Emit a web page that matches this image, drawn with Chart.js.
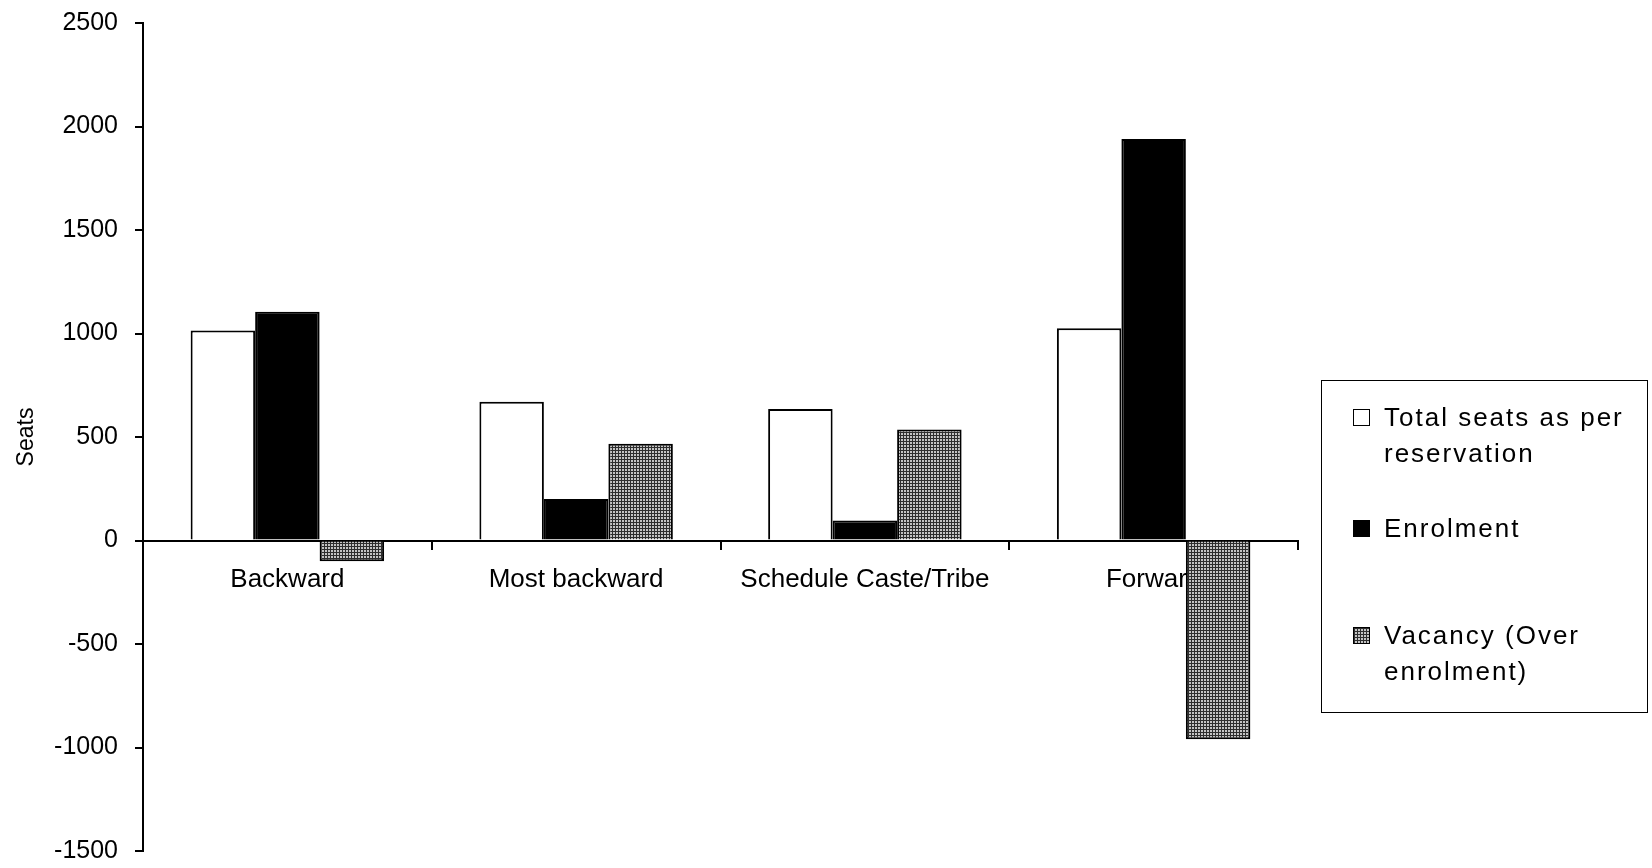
<!DOCTYPE html>
<html>
<head>
<meta charset="utf-8">
<script src="https://cdn.jsdelivr.net/npm/chart.js@4"></script>
<style>
  body { margin: 0; background: #fff; }
  #wrap { position: relative; width: 1652px; height: 868px; }
  #legend {
    position: absolute; left: 1321px; top: 380px; width: 325px; height: 331px;
    border: 1.5px solid #000; font-family: "Liberation Sans", Arial, sans-serif;
  }
  .item { position: absolute; left: 62px; width: 268px; font-size: 26px;
    line-height: 36px; letter-spacing: 2px; color: #000; }
  .sw { position: absolute; left: -31px; top: 10px; width: 15px; height: 15px;
    border: 1.5px solid #000; }
</style>
</head>
<body>
<div id="wrap">
  <canvas id="chart" width="1652" height="868"></canvas>
  <div id="legend"></div>
</div>
<script>
const categories = ["Backward", "Most backward", "Schedule Caste/Tribe", "Forward"];
const seriesNames = ["Total seats as per reservation", "Enrolment", "Vacancy (Over enrolment)"];
const totalSeats = [1015, 670, 635, 1025];
const enrolment = [1105, 200, 97, 1940];
const vacancy = [-100, 467, 536, -960];
const yMin = -1500, yMax = 2500, yStep = 500;

const FONT = '"Liberation Sans", Arial, sans-serif';

// grey mesh used for the vacancy bars
function meshTile() {
    const c = document.createElement("canvas");
    c.width = 3; c.height = 3;
    const g = c.getContext("2d");
    g.fillStyle = "#c4c4c4";
    g.fillRect(0, 0, 3, 3);
    g.fillStyle = "#2e2e2e";
    g.fillRect(0, 0, 3, 1);
    g.fillRect(0, 0, 1, 3);
    return c;
}
const tile = meshTile();
const ctx = document.getElementById("chart").getContext("2d");
const mesh = ctx.createPattern(tile, "repeat");

const chart = new Chart(ctx, {
    type: "bar",
    data: {
        labels: categories,
        datasets: [
            { label: seriesNames[0], data: totalSeats, backgroundColor: "#ffffff" },
            { label: seriesNames[1], data: enrolment, backgroundColor: "#000000" },
            { label: seriesNames[2], data: vacancy, backgroundColor: mesh }
        ].map(d => Object.assign(d, {
            borderColor: "#000", borderWidth: 2,
            categoryPercentage: 0.67, barPercentage: 1.0
        }))
    },
    options: {
        responsive: false,
        devicePixelRatio: 1,
        animation: false,
        layout: { padding: { top: 23, bottom: 17, left: 0, right: 354 } },
        plugins: { legend: { display: false }, tooltip: { enabled: false } },
        scales: {
            x: {
                position: { y: 0 },
                grid: { drawOnChartArea: false, drawTicks: true, tickLength: 8, color: "#000", lineWidth: 2 },
                border: { display: true, color: "#000", width: 2 },
                ticks: { color: "#000", padding: 16, font: { family: FONT, size: 26 }, maxRotation: 0 },
                afterFit(s) { s.paddingLeft = 0; s.paddingRight = 0; }
            },
            y: {
                min: yMin, max: yMax,
                ticks: { stepSize: yStep, color: "#000", padding: 17, font: { family: FONT, size: 25 },
                    callback: v => String(v) },
                grid: { drawOnChartArea: false, drawTicks: true, tickLength: 8, color: "#000", lineWidth: 2 },
                border: { display: true, color: "#000", width: 2 },
                title: { display: true, text: "Seats", color: "#000", font: { family: FONT, size: 23 }, padding: { top: 13, bottom: 0 } },
                afterFit(s) { s.width = 143; s.paddingTop = 0; s.paddingBottom = 0; }
            }
        }
    }
});

// legend box with wrapped labels, built from the datasets
const itemTops = [18, 129, 236];
const legend = document.getElementById("legend");
chart.data.datasets.forEach((ds, i) => {
    const it = document.createElement("div");
    it.className = "item";
    it.style.top = itemTops[i] + "px";
    const sw = document.createElement("span");
    sw.className = "sw";
    if (ds.backgroundColor === mesh) {
        sw.style.backgroundImage = "url(" + tile.toDataURL() + ")";
    } else {
        sw.style.background = ds.backgroundColor;
    }
    it.appendChild(sw);
    it.appendChild(document.createTextNode(ds.label));
    legend.appendChild(it);
});
</script>
</body>
</html>
